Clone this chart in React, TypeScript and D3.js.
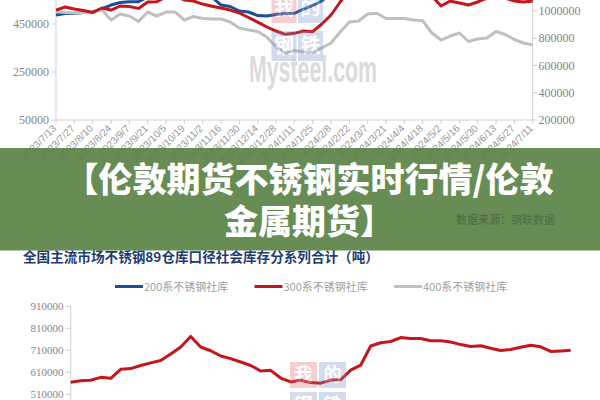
import React from "react";
import * as d3 from "d3";

const topTickLabels = [
  "2023/7/13", "2023/7/27", "2023/8/10", "2023/8/24", "2023/9/7", "2023/9/21",
  "2023/10/5", "2023/10/19", "2023/11/2", "2023/11/16", "2023/11/30", "2023/12/14",
  "2023/12/28", "2024/1/11", "2024/1/25", "2024/2/8", "2024/2/22", "2024/3/7",
  "2024/3/21", "2024/4/4", "2024/4/18", "2024/5/2", "2024/5/16", "2024/5/30",
  "2024/6/13", "2024/6/27", "2024/7/11",
];

const seriesNames = ["200系不锈钢社库", "300系不锈钢社库", "400系不锈钢社库"];

// weekly values, top chart (200 & 300 on left axis, 400 on right axis)
const top200 = [
  487500, 493700, 494600, 497900, 500000, 512500, 529000, 539600, 543000, 543000,
  562500, 575000, 591700, 600000, 600000, 591700, 575000, 562500, 529000, 523000,
  504000, 500000, 485000, 483000, 489600, 493700, 494600, 512500, 527000, 545800,
  583000, 612500, 633000, 650000, 660000, 665000, 660000, 655000, 650000, 645000,
  640000, 625000, 600000, 610000, 615000, 605000, 610000, 620000, 625000, 615000,
  610000, 605000, 600000,
];
const top300 = [
  508000, 520800, 512500, 506000, 498000, 516700, 508000, 525000, 523000, 515000,
  541700, 543000, 562500, 566700, 550000, 545800, 533000, 523700, 516700, 508000,
  495800, 477000, 458000, 437500, 420800, 407000, 411000, 420800, 418000, 450000,
  487500, 541700, 591700, 625000, 641700, 650000, 641700, 633000, 625000, 612500,
  591700, 566700, 525000, 545800, 537500, 529000, 541700, 558000, 562500, 558000,
  545800, 541700, 545800,
];
const top400 = [
  994800, 989000, 987500, 987500, 987500, 1011000, 933900, 977900, 963300, 922900,
  992600, 963300, 992600, 992600, 933900, 959600, 944900, 941200, 941200, 919200,
  875200, 860500, 849500, 809100, 735700, 691700, 710000, 699000, 695400, 728400,
  765100, 845800, 919200, 926600, 977900, 983100, 944900, 944900, 944900, 933900,
  928800, 838500, 787100, 816500, 838500, 776100, 794500, 801800, 849500, 827500,
  790800, 765100, 750400,
];
const topLeftTicks = [50000, 250000, 450000, 650000];
const topRightTicks = [200000, 400000, 600000, 800000, 1000000];

// bottom chart, 300 series
const bottom300 = [
  564500, 572000, 573600, 587000, 582700, 623600, 627000, 641000, 653000, 663600,
  693000, 725000, 773000, 725000, 708000, 684000, 672000, 657000, 641000, 616000,
  619000, 584000, 566000, 573600, 563600, 560500, 575000, 576000, 620000, 643000,
  729500, 744500, 750000, 768000, 763600, 764000, 753600, 753600, 747700, 736000,
  727000, 731000, 719000, 709000, 713600, 723600, 733000, 726000, 705000, 707000,
  710000,
];
const bottomTicks = [410000, 510000, 610000, 710000, 810000, 910000];

const bannerLines = ["【伦敦期货不锈钢实时行情/伦敦", "金属期货】"];
const chartTitle = "全国主流市场不锈钢89仓库口径社会库存分系列合计（吨）";
const sourceNote = "数据来源：钢联数据";
const watermarkText = "Mysteel.com";
const logoChars = ["我", "的", "钢", "铁"];

const COLORS = ["#1f4e96", "#c4161c", "#c0c0c0"];
const serif = "'Liberation Serif', 'DejaVu Serif', serif";
const cjk = "'Noto Sans CJK SC', sans-serif";

export default function App() {
  const xTop = d3.scaleLinear().domain([0, top200.length - 1]).range([56, 532.7]);
  const yLeft = d3.scaleLinear().domain([50000, 650000]).range([120, -24]);
  const yRight = d3.scaleLinear().domain([200000, 1000000]).range([120, 11]);
  const xBot = d3.scaleLinear().domain([0, bottom300.length - 1]).range([70.7, 570.7]);
  const yBot = d3.scaleLinear().domain([510000, 910000]).range([394.3, 306.3]);

  const lineLeft = d3.line<number>().x((_, i) => xTop(i)).y((d) => yLeft(d));
  const lineRight = d3.line<number>().x((_, i) => xTop(i)).y((d) => yRight(d));
  const lineBot = d3.line<number>().x((_, i) => xBot(i)).y((d) => yBot(d));

  const axisColor = "#cfcfcf";
  const labelColor = "#858585";

  const logo = (x0: number, y0: number, w: number, h: number, gx: number, gy: number, fs: number, key: string) => (
    <g key={key} opacity={0.3}>
      {logoChars.map((c, i) => {
        const cx = x0 + (i % 2) * (w + gx);
        const cy = y0 + Math.floor(i / 2) * (h + gy);
        return (
          <g key={c}>
            <rect x={cx} y={cy} width={w} height={h} fill={i === 0 ? "#e0606a" : "#6f8fc4"} />
            <text x={cx + w / 2} y={cy + h / 2 + fs * 0.36} textAnchor="middle" fontSize={fs}
              fontFamily={cjk} fontWeight={700} fill="#ffffff">{c}</text>
          </g>
        );
      })}
    </g>
  );

  return (
    <svg width={600} height={400} style={{ position: "absolute", left: 0, top: 0, display: "block", background: "#fff" }}>
      {/* ---------- top chart ---------- */}
      <line x1={56} x2={56} y1={0} y2={120} stroke={axisColor} />
      <line x1={532.7} x2={532.7} y1={0} y2={120} stroke={axisColor} />
      <line x1={56} x2={532.7} y1={120} y2={120} stroke={axisColor} />
      {topLeftTicks.map((t) => (
        <g key={"lt" + t}>
          <line x1={51} x2={56} y1={yLeft(t)} y2={yLeft(t)} stroke={axisColor} />
          <text x={49} y={yLeft(t) + 4} textAnchor="end" fontSize={12} fontFamily={serif} fill={labelColor}>{t}</text>
        </g>
      ))}
      {topRightTicks.map((t) => (
        <g key={"rt" + t}>
          <line x1={532.7} x2={537} y1={yRight(t)} y2={yRight(t)} stroke={axisColor} />
          <text x={538.5} y={yRight(t) + 4} textAnchor="start" fontSize={12} fontFamily={serif} fill={labelColor}>{t}</text>
        </g>
      ))}
      {topTickLabels.map((lab, k) => {
        const x = xTop(k * 2);
        return (
          <g key={"xt" + k}>
            <line x1={x} x2={x} y1={120} y2={124} stroke={axisColor} />
            <text transform={`translate(${x + 1},${129}) rotate(-45)`} textAnchor="end" fontSize={10}
              fontFamily="'Liberation Sans', sans-serif" fill="#999999">{lab}</text>
          </g>
        );
      })}
      <path d={lineLeft(top200) || ""} fill="none" stroke={COLORS[0]} strokeWidth={3} strokeLinejoin="round" />
      <path d={lineRight(top400) || ""} fill="none" stroke={COLORS[2]} strokeWidth={3} strokeLinejoin="round" />
      <path d={lineLeft(top300) || ""} fill="none" stroke={COLORS[1]} strokeWidth={3} strokeLinejoin="round" />

      {/* watermark */}
      {logo(271.5, -7, 25, 30, 1.5, 8, 20, "logoTop")}
      <text x={249} y={82} fontSize={37} fontFamily="'Liberation Sans', sans-serif" fontWeight={700}
        fill="#c4c4c4" opacity={0.6} textLength={128} lengthAdjust="spacingAndGlyphs">{watermarkText}</text>

      {/* ---------- bottom chart ---------- */}
      <text x={23} y={261.5} fontSize={13.6} fontFamily={cjk} fontWeight={700} fill="#1f3b73">{chartTitle}</text>
      {seriesNames.map((n, i) => {
        const xs = [115, 254.5, 394][i];
        return (
          <g key={"lg" + i}>
            <line x1={xs} x2={xs + 28} y1={286.5} y2={286.5} stroke={COLORS[i]} strokeWidth={3} />
            <text x={xs + 29} y={290.5} fontSize={11} fontFamily={cjk} fill="#a0a0a0">{n}</text>
          </g>
        );
      })}
      <line x1={70.7} x2={70.7} y1={yBot(910000)} y2={400} stroke={axisColor} />
      {bottomTicks.map((t) => (
        <g key={"bt" + t}>
          <line x1={65.5} x2={70.7} y1={yBot(t)} y2={yBot(t)} stroke={axisColor} />
          <text x={63.5} y={yBot(t) + 4} textAnchor="end" fontSize={11} fontFamily={serif} fill={labelColor}>{t}</text>
        </g>
      ))}
      <path d={lineBot(bottom300) || ""} fill="none" stroke={COLORS[1]} strokeWidth={3} strokeLinejoin="round" />
      {logo(290, 362, 27, 26, 2, 4, 18, "logoBot")}

      {/* ---------- banner ---------- */}
      <rect x={0} y={148} width={600} height={102.5} fill="#5a8245" opacity={0.92} />
      <text x={456} y={224} fontSize={11} fontFamily={cjk} fill="#4e6a43">{sourceNote}</text>
      {bannerLines.map((l, i) => (
        <text key={"bn" + i} x={309} y={192 + i * 41.5} textAnchor="middle" fontSize={34}
          fontFamily={cjk} fontWeight={900} fill="#ffffff">{l}</text>
      ))}
    </svg>
  );
}
